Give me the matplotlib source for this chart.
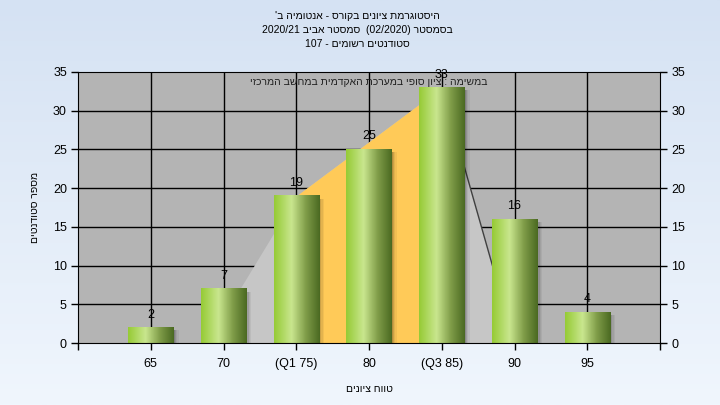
import re
import numpy as np
import matplotlib
matplotlib.use('Agg')
import matplotlib.pyplot as plt
from matplotlib.colors import LinearSegmentedColormap

plt.rcParams['font.family'] = ['Liberation Sans', 'DejaVu Sans']

# data
categories = ['65', '70', '(Q1 75)', '80', '(Q3 85)', '90', '95']
counts = [2, 7, 19, 25, 33, 16, 4]
# background curve (category index, value) and the Q1..Q3 band
curve_idx = [1, 2, 4, 5]
curve_val = [3.5, 19, 33, 0]
band_idx = [2, 4]
band_val = [19, 33]

title_lines = ["היסטוגרמת ציונים בקורס - אנטומיה ב'",
               "בסמסטר (02/2020)  סמסטר אביב 2020/21",
               "סטודנטים רשומים - 107"]
note = "במשימה : ציון סופי במערכת האקדמית במחשב המרכזי"
xlabel = "טווח ציונים"
ylabel = "מספר סטודנטים"


def rtl(s):
    # crude visual ordering for hebrew text (matplotlib has no bidi)
    r = s[::-1].translate(str.maketrans('()', ')('))
    return re.sub(r'[0-9A-Za-z/.]+(?: [0-9A-Za-z/.]+)*', lambda m: m.group(0)[::-1], r)


fig = plt.figure(figsize=(7.2, 4.05), dpi=100)

# figure background gradient
bg = fig.add_axes([0, 0, 1, 1], zorder=-10)
top = np.array([213, 226, 243]) / 255
bot = np.array([240, 246, 253]) / 255
t = np.linspace(0, 1, 200)[:, None]
grad = top[None, :] * (1 - t) + bot[None, :] * t
bg.imshow(grad[:, None, :], aspect='auto', extent=[0, 1, 0, 1])
bg.axis('off')

ax = fig.add_axes([78 / 720, 62 / 405, 582 / 720, 271 / 405])
ax.set_facecolor('#b4b4b4')

# grid
for y in range(5, 35, 5):
    ax.axhline(y, color='black', lw=1, zorder=1)
for i in range(len(categories)):
    ax.axvline(i, color='black', lw=1, zorder=1)

# background areas
ax.fill_between(curve_idx, curve_val, 0, color='#c6c6c6', lw=0, zorder=2)
ax.plot(curve_idx[2:], curve_val[2:], color='#404040', lw=1, zorder=2.5)
ax.fill_between(band_idx, band_val, 0, color='#ffca58', lw=0, zorder=3)

# bars with cylinder-like gradient
w = 0.62
cmap = LinearSegmentedColormap.from_list('bar', [(0, '#96cb36'), (0.38, '#c9e68e'),
                                                 (0.7, '#7f9c48'), (1, '#4b6a22')])
g = np.linspace(0, 1, 64)[None, :]
for i, v in enumerate(counts):
    # shadow
    for k, a in enumerate([0.3, 0.2, 0.11, 0.05]):
        ax.add_patch(plt.Rectangle((i + w / 2 + k * 0.018, 0), 0.018, v - 0.35,
                                   color='black', alpha=a, lw=0, zorder=4))
    ax.imshow(g, cmap=cmap, aspect='auto', extent=[i - w / 2, i + w / 2, 0, v],
              zorder=5, interpolation='bilinear')
    ax.annotate(str(v), (i, v), xytext=(0, 5), textcoords='offset points',
                ha='center', va='bottom', fontsize=9, color='black', zorder=7)

ax.set_xlim(-1, 7)
ax.set_ylim(0, 35)

ax.set_xticks(range(-1, 8))
ax.set_xticklabels([''] + categories + [''], fontsize=9)
ax.set_yticks(range(0, 36, 5))
ax.tick_params(axis='both', direction='out', length=5, width=1, colors='black',
               labelsize=9, pad=3)
ax.tick_params(axis='x', pad=6)
ax.tick_params(axis='y', right=True, labelright=True)
for s in ax.spines.values():
    s.set_color('black')
    s.set_zorder(8)

ax.set_xlabel(rtl(xlabel), fontsize=7.5, labelpad=10)
ax.set_ylabel(rtl(ylabel), fontsize=7.5, labelpad=9)

ax.text(3, 34.3, rtl(note), ha='center', va='top', fontsize=7.5, color='#202020', zorder=9)

for k, line in enumerate(title_lines):
    fig.text(0.497, 1 - (16 + 14 * k) / 405, rtl(line), ha='center', va='center', fontsize=7.5)

fig.savefig('out.png', dpi=100)
